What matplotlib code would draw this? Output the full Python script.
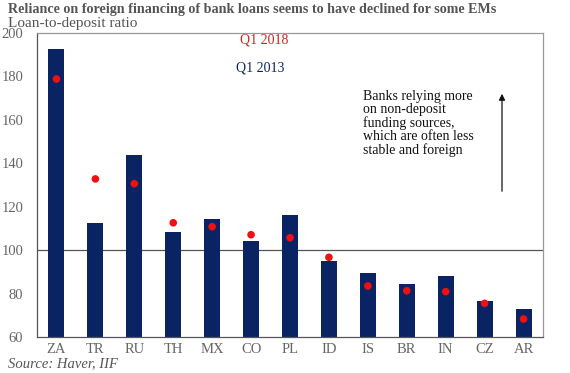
import matplotlib
matplotlib.use("Agg")
import matplotlib.pyplot as plt

countries = ["ZA", "TR", "RU", "TH", "MX", "CO", "PL", "ID", "IS", "BR", "IN", "CZ", "AR"]
q1_2013 = [192.6, 112.5, 143.7, 108.4, 114.5, 104.1, 116.2, 94.9, 89.3, 84.4, 88.0, 76.6, 72.7]
q1_2018 = [178.8, 132.8, 130.6, 112.6, 110.8, 107.1, 105.7, 96.7, 83.5, 81.3, 80.9, 75.5, 68.3]
yticks = [60, 80, 100, 120, 140, 160, 180, 200]

navy = "#0a2463"
red = "#ee1111"
gray = "#666666"
serif = ["Liberation Serif", "DejaVu Serif"]

fig = plt.figure(figsize=(5.7, 3.73), dpi=100)
ax = fig.add_axes([37/570, 1-337/373, (543-37)/570, (337-33)/373])

x = list(range(len(countries)))
ax.bar(x, q1_2013, width=0.41, color=navy, bottom=0, zorder=2)
ax.scatter(x, q1_2018, s=30, color=red, zorder=3, edgecolors="none")
ax.axhline(100, color="#555555", lw=0.9, zorder=1)

ax.set_xlim(-0.5, len(countries) - 0.5)
ax.set_ylim(60, 200)
ax.set_yticks(yticks)
ax.set_yticklabels([str(v) for v in yticks], family=serif, fontsize=10.5, color=gray)
ax.set_xticks(x)
ax.set_xticklabels(countries, family=serif, fontsize=10.5, color=gray)
ax.tick_params(length=0, pad=4)
ax.tick_params(axis="y", pad=10)
for s in ["left", "bottom"]:
    ax.spines[s].set_color("#555555")
    ax.spines[s].set_linewidth(0.9)
for s in ["top", "right"]:
    ax.spines[s].set_color("#999999")
    ax.spines[s].set_linewidth(0.9)

fig.text(264/570, 1-40/373, "Q1 2018", color="#d42020",
         family=serif, fontsize=10, ha="center", va="center")
fig.text(260/570, 1-68/373, "Q1 2013", color=navy,
         family=serif, fontsize=10, ha="center", va="center")
fig.text(363/570, 1-90/373, "Banks relying more\non non-deposit\nfunding sources,\nwhich are often less\nstable and foreign",
         family=serif, fontsize=10, color="#111111", ha="left", va="top", linespacing=1.0)
fig.add_artist(matplotlib.patches.FancyArrowPatch((502/570, 1-194/373), (502/570, 1-91/373),
               transform=fig.transFigure, arrowstyle="-|>", mutation_scale=9, color="#111111", lw=0.9))

fig.text(8/570, 1-10/373, "Reliance on foreign financing of bank loans seems to have declined for some EMs",
         family=serif, fontsize=10.2, fontweight="bold", color="#555555", ha="left", va="center")
fig.text(8/570, 1-23/373, "Loan-to-deposit ratio", family=serif, fontsize=11, color="#555555",
         ha="left", va="center")
fig.text(8/570, 1-364/373, "Source: Haver, IIF", family=serif, fontsize=10.5, style="italic",
         color="#555555", ha="left", va="center")

fig.savefig("out.png", dpi=100)
